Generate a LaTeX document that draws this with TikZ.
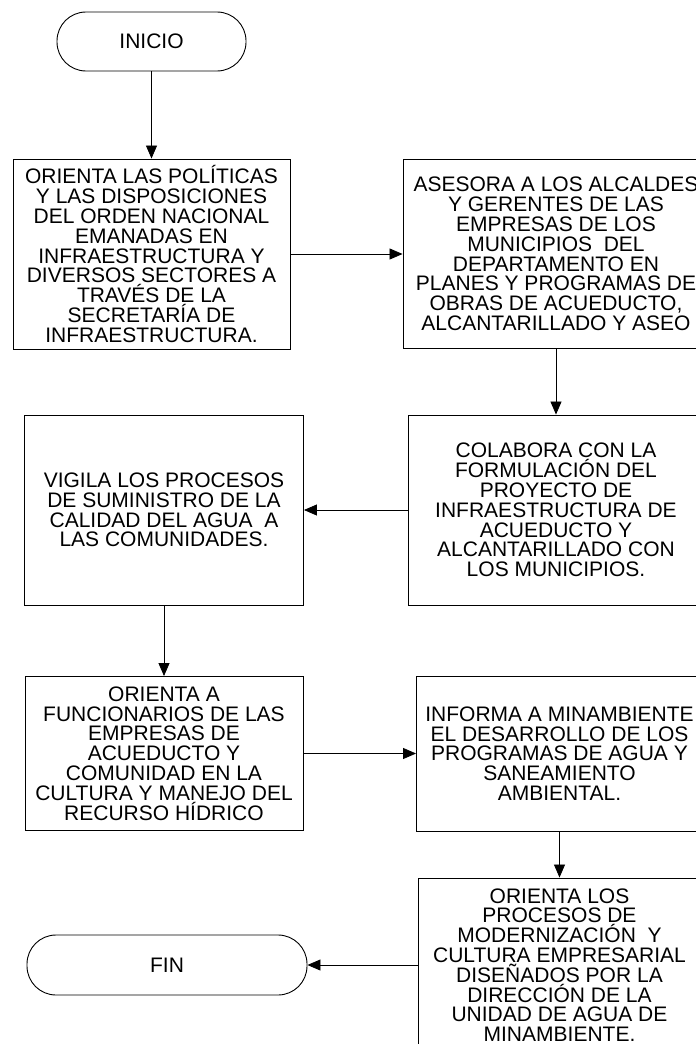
\documentclass[tikz,border=0pt]{standalone}
\usepackage{fontspec}
\setmainfont{Liberation Sans}
\usetikzlibrary{arrows.meta}

\begin{document}
\begin{tikzpicture}[x=1pt, y=-1pt,
		caja/.style={draw, line width=0.9pt, align=center, inner sep=0pt, font=\fontsize{21}{19.8}\selectfont},
		terminal/.style={caja, rounded corners=29pt, minimum height=59pt},
		flecha/.style={line width=0.8pt, -{Triangle[length=13pt, width=11pt]}}]
	\useasboundingbox (0,0) rectangle (696,1044);
	
	\node[terminal, minimum width=189pt] (inicio) at (151.5,41.5) {INICIO};
	\node[caja, minimum width=277pt, minimum height=190pt] (orienta) at (151.5,254) {ORIENTA LAS POLÍTICAS\\Y LAS DISPOSICIONES\\DEL ORDEN NACIONAL\\EMANADAS EN\\INFRAESTRUCTURA Y\\DIVERSOS SECTORES A\\TRAVÉS DE LA\\SECRETARÍA DE\\INFRAESTRUCTURA.};
	\node[caja, minimum width=306pt, minimum height=189pt] (asesora) at (556,254) {ASESORA A LOS ALCALDES\\Y GERENTES DE LAS\\EMPRESAS DE LOS\\MUNICIPIOS \ DEL\\DEPARTAMENTO EN\\PLANES Y PROGRAMAS DE\\OBRAS DE ACUEDUCTO,\\ALCANTARILLADO Y ASEO};
	
	\node[caja, minimum width=279pt, minimum height=190pt] (vigila) at (164,510) {VIGILA LOS PROCESOS\\DE SUMINISTRO DE LA\\CALIDAD DEL AGUA \ A\\LAS COMUNIDADES.};
	\node[caja, minimum width=296pt, minimum height=190pt] (colabora) at (556,510) {COLABORA CON LA\\FORMULACIÓN DEL\\PROYECTO DE\\INFRAESTRUCTURA DE\\ACUEDUCTO Y\\ALCANTARILLADO CON\\LOS MUNICIPIOS.};
	
	\node[caja, minimum width=278pt, minimum height=154pt] (funcionarios) at (164,753.5) {ORIENTA A\\FUNCIONARIOS DE LAS\\EMPRESAS DE\\ACUEDUCTO Y\\COMUNIDAD EN LA\\CULTURA Y MANEJO DEL\\RECURSO HÍDRICO};
	\node[caja, minimum width=286pt, minimum height=155pt] (informa) at (559.5,753.5) {INFORMA A MINAMBIENTE\\EL DESARROLLO DE LOS\\PROGRAMAS DE AGUA Y\\SANEAMIENTO\\AMBIENTAL.};
	
	\node[caja, minimum width=282pt, minimum height=174pt] (procesos) at (559.5,965) {ORIENTA LOS\\PROCESOS DE\\MODERNIZACIÓN \ Y\\CULTURA EMPRESARIAL\\DISEÑADOS POR LA\\DIRECCIÓN DE LA\\UNIDAD DE AGUA DE\\MINAMBIENTE.};
	\node[terminal, minimum width=280pt, minimum height=60pt] (fin) at (167,965) {FIN};
	
	\draw[flecha] (inicio) -- (orienta);
	\draw[flecha] (orienta) -- (asesora);
	\draw[flecha] (asesora) -- (colabora);
	\draw[flecha] (colabora) -- (vigila);
	\draw[flecha] (vigila) -- (funcionarios);
	\draw[flecha] (funcionarios) -- (informa);
	\draw[flecha] (informa) -- (procesos);
	\draw[flecha] (procesos) -- (fin);
\end{tikzpicture}
\end{document}
